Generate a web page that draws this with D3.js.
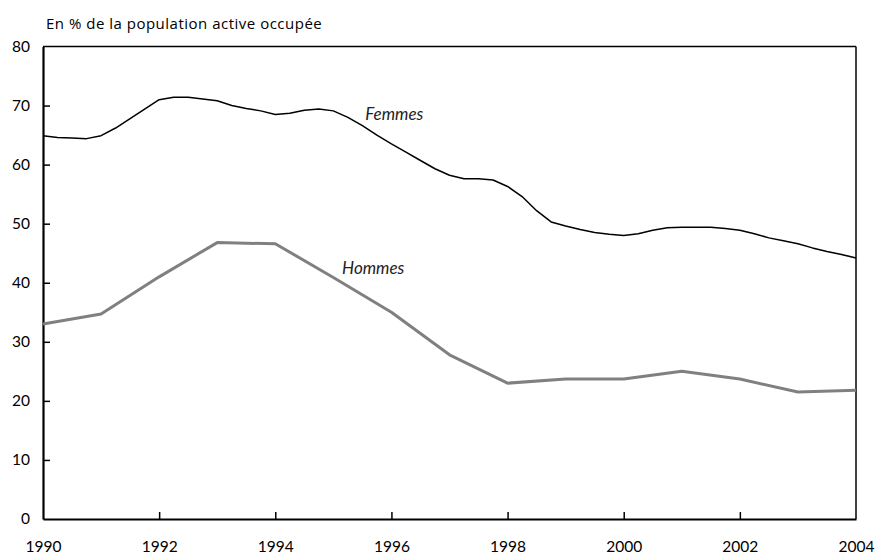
<!DOCTYPE html>
<html>
<head>
<meta charset="utf-8">
<script src="https://cdn.jsdelivr.net/npm/d3@7"></script>
<style>
  body { margin: 0; background: #fff; }
  text { font-family: Lato, "Open Sans", sans-serif; fill: #000; }
</style>
</head>
<body>
<div id="chart"></div>
<script>
// annual values, men
var hommesYears = [1990, 1991, 1992, 1993, 1994, 1995, 1996, 1997, 1998, 1999, 2000, 2001, 2002, 2003, 2004];
var hommes = [33.0, 34.7, 41.0, 46.8, 46.6, 40.9, 35.0, 27.8, 23.0, 23.7, 23.7, 25.0, 23.7, 21.5, 21.8];

// quarterly values, women (1990 Q1 .. 2004 Q1)
var femmesStart = 1990;
var femmes = [
  64.9, 64.6, 64.5, 64.4,
  64.9, 66.2, 67.8, 69.4,
  71.0, 71.4, 71.4, 71.1,
  70.8, 70.0, 69.5, 69.1,
  68.5, 68.7, 69.2, 69.4,
  69.1, 68.0, 66.6, 65.0,
  63.5, 62.1, 60.7, 59.3,
  58.2, 57.6, 57.6, 57.4,
  56.3, 54.6, 52.2, 50.3,
  49.6, 49.0, 48.5, 48.2,
  48.0, 48.3, 48.9, 49.3,
  49.4, 49.4, 49.4, 49.2,
  48.9, 48.3, 47.6, 47.1,
  46.6, 45.9, 45.3, 44.8,
  44.2
];

var xTicks = [1990, 1992, 1994, 1996, 1998, 2000, 2002, 2004];
var yTicks = [0, 10, 20, 30, 40, 50, 60, 70, 80];

var margin = {top: 46.5, right: 19, bottom: 35, left: 43},
    width = 875 - margin.left - margin.right,
    height = 554 - margin.top - margin.bottom;

var svg = d3.select("#chart")
  .append("svg")
  .attr("width", 875)
  .attr("height", 554)
  .append("g")
  .attr("transform", "translate(" + margin.left + "," + margin.top + ")");

var x = d3.scaleLinear().domain([1990, 2004]).range([0, width]);
var y = d3.scaleLinear().domain([0, 80]).range([height, 0]);

// title
svg.append("text")
  .attr("x", 3)
  .attr("y", -18)
  .style("font-family", "'Open Sans', sans-serif")
  .style("font-size", "15px")
  .style("letter-spacing", "0.5px")
  .text("En % de la population active occupée");

// frame top and right
svg.append("line")
  .attr("x1", 0).attr("x2", width).attr("y1", 0).attr("y2", 0)
  .attr("stroke", "#000").attr("stroke-width", 1.5);
svg.append("line")
  .attr("x1", width).attr("x2", width).attr("y1", 0).attr("y2", height)
  .attr("stroke", "#000").attr("stroke-width", 1.5);

// axes (ticks inward)
var yAxis = svg.append("g")
  .call(d3.axisLeft(y).tickValues(yTicks).tickSize(-7).tickPadding(20).tickSizeOuter(0));
var xAxis = svg.append("g")
  .attr("transform", "translate(0," + height + ")")
  .call(d3.axisBottom(x).tickValues(xTicks).tickFormat(d3.format("d")).tickSize(-7).tickPadding(22).tickSizeOuter(0));

[yAxis, xAxis].forEach(function(a) {
  a.select(".domain").attr("stroke", "#000").attr("stroke-width", 2.2);
  a.selectAll(".tick line").attr("stroke", "#000").attr("stroke-width", 1.5);
  a.selectAll(".tick text").style("font-size", "15.5px").attr("fill", "#000");
});
yAxis.selectAll(".tick text").attr("x", -13);
xAxis.selectAll(".tick").filter(function(d) { return d === 1990 || d === 2004; }).select("line").remove();
yAxis.selectAll(".tick").filter(function(d) { return d === 0 || d === 80; }).select("line").remove();

// lines
var lineH = d3.line()
  .x(function(d, i) { return x(hommesYears[i]); })
  .y(function(d) { return y(d); });

var lineF = d3.line()
  .x(function(d, i) { return x(femmesStart + i / 4); })
  .y(function(d) { return y(d); });

svg.append("path")
  .datum(hommes)
  .attr("fill", "none")
  .attr("stroke", "#808080")
  .attr("stroke-width", 3)
  .attr("stroke-linejoin", "round")
  .attr("d", lineH);

svg.append("path")
  .datum(femmes)
  .attr("fill", "none")
  .attr("stroke", "#000")
  .attr("stroke-width", 1.5)
  .attr("stroke-linejoin", "round")
  .attr("d", lineF);

// series labels
svg.append("text")
  .attr("x", x(1995.55))
  .attr("y", y(67.6))
  .style("font-size", "17px")
  .style("font-style", "italic")
  .style("fill", "#222")
  .text("Femmes");

svg.append("text")
  .attr("x", x(1995.15))
  .attr("y", y(41.5))
  .style("font-size", "17px")
  .style("font-style", "italic")
  .style("fill", "#222")
  .text("Hommes");
</script>
</body>
</html>
